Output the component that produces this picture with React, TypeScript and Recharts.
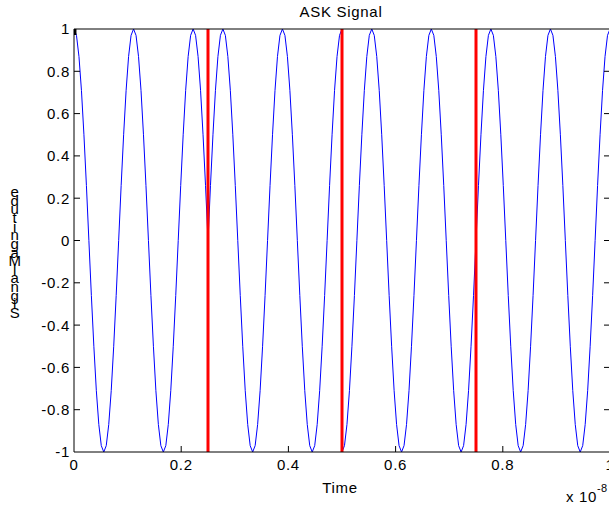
import { LineChart, Line, XAxis, YAxis, ReferenceLine } from "recharts"

// time is in units of 1e-8 s, each bit lasts a quarter of the window
const bitDuration = 0.25
const samplesPerBit = 54

const bit1Wave = [
  1, 0.97, 0.87, 0.71, 0.5, 0.26, 0, -0.26, -0.5, -0.71, -0.87, -0.97, -1, -0.97, -0.87, -0.71, -0.5, -0.26, 0, 0.26, 0.5, 0.71, 0.87, 0.97,
  1, 0.97, 0.87, 0.71, 0.5, 0.26, 0, -0.26, -0.5, -0.71, -0.87, -0.97, -1, -0.97, -0.87, -0.71, -0.5, -0.26, 0, 0.26, 0.5, 0.71, 0.87, 0.97,
  1, 0.97, 0.87, 0.71, 0.5, 0.26, 0,
]
const bit2Wave = [
  0, 0.26, 0.5, 0.71, 0.87, 0.97, 1, 0.97, 0.87, 0.71, 0.5, 0.26, 0, -0.26, -0.5, -0.71, -0.87, -0.97, -1, -0.97, -0.87, -0.71, -0.5, -0.26,
  0, 0.26, 0.5, 0.71, 0.87, 0.97, 1, 0.97, 0.87, 0.71, 0.5, 0.26, 0, -0.26, -0.5, -0.71, -0.87, -0.97, -1, -0.97, -0.87, -0.71, -0.5, -0.26,
  0, 0.26, 0.5, 0.71, 0.87, 0.97, 1,
]
const bit3Wave = [
  -1, -0.97, -0.87, -0.71, -0.5, -0.26, 0, 0.26, 0.5, 0.71, 0.87, 0.97, 1, 0.97, 0.87, 0.71, 0.5, 0.26, 0, -0.26, -0.5, -0.71, -0.87, -0.97,
  -1, -0.97, -0.87, -0.71, -0.5, -0.26, 0, 0.26, 0.5, 0.71, 0.87, 0.97, 1, 0.97, 0.87, 0.71, 0.5, 0.26, 0, -0.26, -0.5, -0.71, -0.87, -0.97,
  -1, -0.97, -0.87, -0.71, -0.5, -0.26, 0,
]
const bit4Wave = [
  0, 0.26, 0.5, 0.71, 0.87, 0.97, 1, 0.97, 0.87, 0.71, 0.5, 0.26, 0, -0.26, -0.5, -0.71, -0.87, -0.97, -1, -0.97, -0.87, -0.71, -0.5, -0.26,
  0, 0.26, 0.5, 0.71, 0.87, 0.97, 1, 0.97, 0.87, 0.71, 0.5, 0.26, 0, -0.26, -0.5, -0.71, -0.87, -0.97, -1, -0.97, -0.87, -0.71, -0.5, -0.26,
  0, 0.26, 0.5, 0.71, 0.87, 0.97, 1,
]

const bitBoundaries = [0.25, 0.5, 0.75]
const xTicks = [0, 0.2, 0.4, 0.6, 0.8, 1]
const yTicks = [-1, -0.8, -0.6, -0.4, -0.2, 0, 0.2, 0.4, 0.6, 0.8, 1]

const title = "ASK Signal"
const xLabel = "Time"
const yLabel = "Signal Magnitude"
const xScaleText = "x 10"
const xScaleExp = "-8"

const waves = [bit1Wave, bit2Wave, bit3Wave, bit4Wave]
const data = waves.flatMap((wave, b) =>
  wave.map((v, i) => ({ t: b * bitDuration + (i * bitDuration) / samplesPerBit, v }))
)

const font = "'Liberation Sans', Arial, sans-serif"
const textStyle = { fontFamily: font, fontSize: 15, letterSpacing: 0.7, fill: "#000" }
const TICK = 6
const isEnd = (v: number, lo: number, hi: number) => v === lo || v === hi

const LeftTick = ({ x, y, payload }: any) => (
  <g>
    {!isEnd(payload.value, -1, 1) && <line x1={x} x2={x + TICK} y1={y} y2={y} stroke="#000" />}
    <text x={x - 4} y={y} dy="0.36em" textAnchor="end" style={textStyle}>
      {payload.value}
    </text>
  </g>
)

const RightTick = ({ x, y, payload }: any) =>
  isEnd(payload.value, -1, 1) ? <g /> : <line x1={x - TICK} x2={x} y1={y} y2={y} stroke="#000" />

const BottomTick = ({ x, y, payload }: any) => (
  <g>
    {!isEnd(payload.value, 0, 1) && <line x1={x} x2={x} y1={y} y2={y - TICK} stroke="#000" />}
    <text x={x} y={y + 18} textAnchor="middle" style={textStyle}>
      {payload.value}
    </text>
  </g>
)

const TopTick = ({ x, y, payload }: any) =>
  isEnd(payload.value, 0, 1) ? <g /> : <line x1={x} x2={x} y1={y} y2={y + TICK} stroke="#000" />

export default function App() {
  const letters = yLabel.split("").filter((c) => c !== " ")
  return (
    <div style={{ position: "absolute", left: 0, top: 0, width: 609, height: 510, overflow: "hidden", background: "#fff" }}>
      <LineChart width={611} height={510} data={data} margin={{ top: 0, right: 0, bottom: 0, left: 0 }}>
        <XAxis
          dataKey="t"
          type="number"
          domain={[0, 1]}
          ticks={xTicks}
          interval={0}
          height={58}
          tickSize={0}
          tickMargin={0}
          tick={<BottomTick />}
          axisLine={{ stroke: "#000" }}
          allowDataOverflow
        />
        <XAxis
          xAxisId="top"
          orientation="top"
          type="number"
          domain={[0, 1]}
          ticks={xTicks}
          interval={0}
          height={29}
          tickSize={0}
          tickMargin={0}
          tick={<TopTick />}
          axisLine={{ stroke: "#000" }}
          allowDataOverflow
        />
        <YAxis
          type="number"
          domain={[-1, 1]}
          ticks={yTicks}
          interval={0}
          width={74}
          tickSize={0}
          tickMargin={0}
          tick={<LeftTick />}
          axisLine={{ stroke: "#000" }}
          allowDataOverflow
        />
        <YAxis
          yAxisId="right"
          orientation="right"
          type="number"
          domain={[-1, 1]}
          ticks={yTicks}
          interval={0}
          width={1}
          tickSize={0}
          tickMargin={0}
          tick={<RightTick />}
          axisLine={{ stroke: "#000" }}
          allowDataOverflow
        />
        <Line
          type="linear"
          dataKey="v"
          stroke="#0000ff"
          strokeWidth={1}
          dot={false}
          isAnimationActive={false}
        />
        {bitBoundaries.map((b) => (
          <ReferenceLine key={b} x={b} stroke="#ff0000" strokeWidth={3} ifOverflow="hidden" />
        ))}
      </LineChart>
      <svg width={609} height={510} style={{ position: "absolute", left: 0, top: 0, pointerEvents: "none" }}>
        <text x={341} y={17} textAnchor="middle" style={textStyle}>
          {title}
        </text>
        <text x={340} y={493} textAnchor="middle" style={textStyle}>
          {xLabel}
        </text>
        <text x={566} y={502} style={textStyle}>
          {xScaleText}
        </text>
        <text x={597} y={492} style={{ ...textStyle, fontSize: 11, letterSpacing: 0.4 }}>
          {xScaleExp}
        </text>
        <text textAnchor="middle" style={textStyle}>
          {letters.map((c, i) => (
            <tspan key={i} x={15} y={318 - i * 8.64}>
              {c}
            </tspan>
          ))}
        </text>
      </svg>
    </div>
  )
}
